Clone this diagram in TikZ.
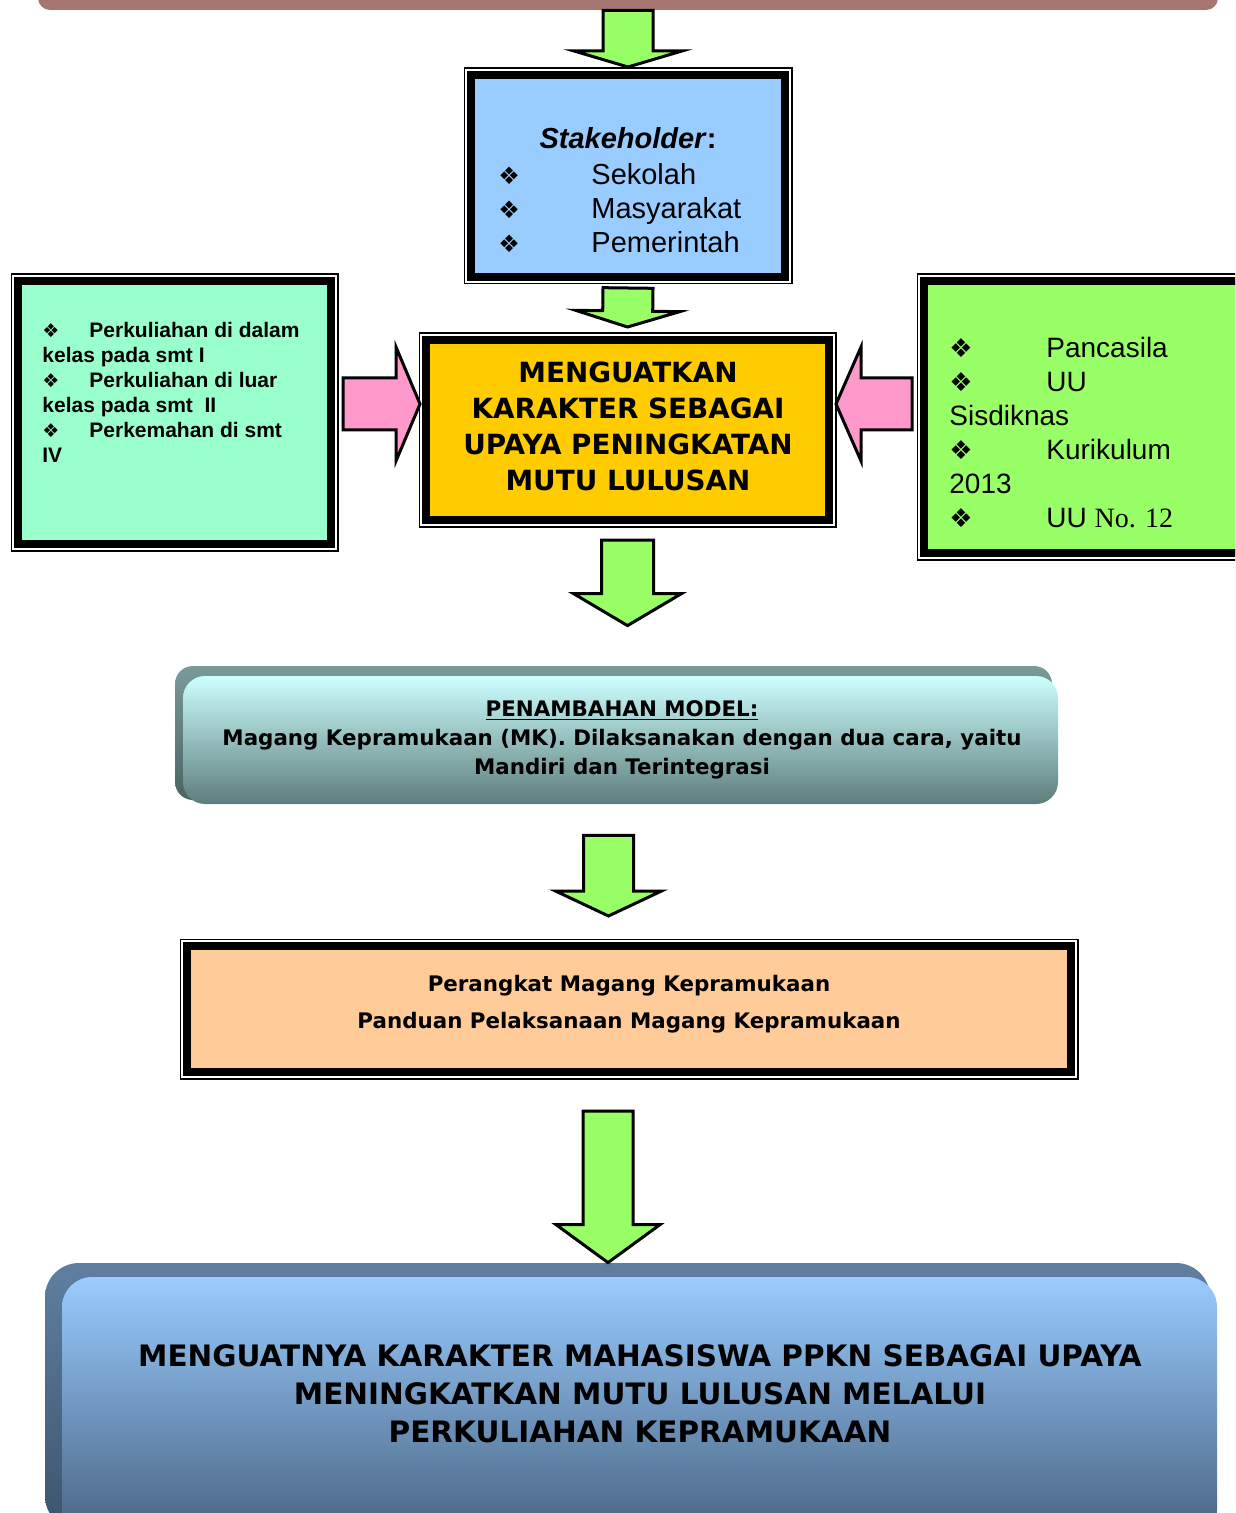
\documentclass[tikz,border=0pt]{standalone}
\usepackage{fontspec}
\usepackage{tikz}
\usetikzlibrary{calc}
\setmainfont{Liberation Sans}
\newfontfamily\tahoma{DejaVu Sans}
\newfontfamily\dingfont{DejaVu Sans}
\newfontfamily\timesfont{Liberation Serif}
\definecolor{stakeblue}{HTML}{99CCFF}
\definecolor{coreyellow}{HTML}{FFCC00}
\definecolor{mintgreen}{HTML}{99FFCC}
\definecolor{limegreen}{HTML}{99FF66}
\definecolor{pinkarrow}{HTML}{FF99CC}
\definecolor{peach}{HTML}{FFCC99}
\definecolor{topbrown}{HTML}{A87670}
\definecolor{modeltop}{HTML}{CCFFFF}
\definecolor{modelbot}{HTML}{5E7C7C}
\definecolor{modelback}{HTML}{7A9A9A}
\definecolor{goaltop}{HTML}{99CCFF}
\definecolor{goalbot}{HTML}{486280}
\definecolor{goalback}{HTML}{5F7FA2}
\newcommand{\bul}[2]{\makebox[#2][l]{\dingfont\fontsize{#1}{#1}\selectfont ❖}}
\newcommand{\fatarrow}[6]{
	\coordinate (hb) at ($(#2)!#5!(#1)$);
	\filldraw[fill=#6, draw=black, line width=1.5pt]
		($(#1)!#3!90:(#2)$) -- ($(hb)!#3!90:(#2)$) -- ($(hb)!#4!90:(#2)$) -- (#2)
		-- ($(hb)!#4!-90:(#2)$) -- ($(hb)!#3!-90:(#2)$) -- ($(#1)!#3!-90:(#2)$) -- cycle;
}
\tikzset{
	framed/.style={rectangle, draw=black, line width=4pt, inner sep=0pt,
		preaction={draw=black, line width=7.5pt},
		preaction={draw=white, line width=6pt}},
	slab/.style={rectangle, inner sep=0pt, draw=none},
	listtext/.style={anchor=north west, inner sep=0pt, align=left},
	boldtext/.style 2 args={align=center, inner sep=0pt, font={\tahoma\bfseries\fontsize{#1}{#2}\selectfont}},
}

\begin{document}
\begin{tikzpicture}[x=0.5pt,y=-0.5pt]
	\useasboundingbox (0,0) rectangle (1235,1513);
	\clip (0,0) rectangle (1235,1513);

	\node[slab, fill=topbrown, rounded corners=6pt, minimum width=590pt, minimum height=40pt] (prev) at (628,-30) {};
	\node[framed, fill=stakeblue, minimum width=157pt, minimum height=101pt] (stake) at (628,176) {};
	\node[framed, fill=coreyellow, minimum width=201.5pt, minimum height=90pt] (core) at (627.5,430) {};
	\node[framed, fill=mintgreen, minimum width=156.5pt, minimum height=131.5pt] (study) at (174.5,412.5) {};
	\node[framed, fill=limegreen, minimum width=158pt, minimum height=136pt] (basis) at (1082,417) {};
	\node[slab, top color=modelback, bottom color=modelbot!80!black, rounded corners=9pt, minimum width=438.5pt, minimum height=67pt] (modelback) at (613.5,733) {};
	\node[slab, top color=modeltop, bottom color=modelbot, rounded corners=11pt, minimum width=437.5pt, minimum height=64pt] (model) at (620.5,740) {};
	\node[framed, fill=peach, minimum width=442pt, minimum height=63pt] (device) at (629,1009) {};
	\node[slab, top color=goalback, bottom color=goalbot!85!black, rounded corners=17pt, minimum width=582.5pt, minimum height=133.5pt] (goalback) at (627.5,1396.5) {};
	\node[slab, top color=goaltop, bottom color=goalbot, rounded corners=15pt, minimum width=577.5pt, minimum height=131.5pt] (goal) at (639.5,1408.5) {};

	\node[font={\fontsize{14.5}{17}\selectfont}] (stakehead) at (628,138) {\textbf{\textit{Stakeholder}:}};
	\node[listtext, font={\fontsize{14.5}{17}\selectfont}] (stakelist) at (498,163)
		{\bul{12}{46.5pt}Sekolah\\\bul{12}{46.5pt}Masyarakat\\\bul{12}{46.5pt}Pemerintah};
	\node[listtext, font={\fontsize{10.5}{12.5}\selectfont\bfseries}] (studylist) at (42,322)
		{\bul{9.5}{23.5pt}Perkuliahan di dalam\\kelas pada smt I\\\bul{9.5}{23.5pt}Perkuliahan di luar\\kelas pada smt~~II\\\bul{9.5}{23.5pt}Perkemahan di smt\\IV};
	\node[listtext, font={\fontsize{14}{17}\selectfont}] (basislist) at (949,337)
		{\bul{13}{48.5pt}Pancasila\\\bul{13}{48.5pt}UU\\Sisdiknas\\\bul{13}{48.5pt}Kurikulum\\2013\\\bul{13}{48.5pt}UU {\timesfont No. 12}};
	\node[boldtext={13.9}{18}] (coretext) at (628,426)
		{MENGUATKAN\\KARAKTER SEBAGAI\\UPAYA PENINGKATAN\\MUTU LULUSAN};
	\node[boldtext={10.7}{14.5}] (modeltext) at (622,740)
		{\underline{PENAMBAHAN MODEL:}\\Magang Kepramukaan (MK). Dilaksanakan dengan dua cara, yaitu\\Mandiri dan Terintegrasi};
	\node[boldtext={10.7}{18.5}] (devicetext) at (629,1004)
		{Perangkat Magang Kepramukaan\\Panduan Pelaksanaan Magang Kepramukaan};
	\node[boldtext={14.75}{19}] (goaltext) at (640,1394)
		{MENGUATNYA KARAKTER MAHASISWA PPKN SEBAGAI UPAYA\\MENINGKATKAN MUTU LULUSAN MELALUI\\PERKULIAHAN KEPRAMUKAAN};

	\coordinate (a1s) at (prev.south);
	\coordinate (a1t) at ($(stake.north)+(0,-4)$);
	\coordinate (a2s) at ($(stake.south)+(0,7)$);
	\coordinate (a2t) at ($(core.north)+(0,-9)$);
	\coordinate (a3s) at ($(core.south)+(0,16)$);
	\coordinate (a3t) at ($(core.south |- model.north)+(0,-50)$);
	\coordinate (a4s) at ($(model.south)+(-12,31)$);
	\coordinate (a4t) at ($(model.south |- device.north)+(-12,-26)$);
	\coordinate (a5s) at ($(device.south)+(-21,35)$);
	\coordinate (a5t) at ($(device.south |- goalback.north)+(-21,0)$);
	\coordinate (plt) at ($(core.west)+(-2,-26)$);
	\coordinate (pls) at ($(study.east |- plt)+(8,0)$);
	\coordinate (prt) at ($(core.east)+(3,-26)$);
	\coordinate (prs) at ($(basis.west |- prt)+(-8,0)$);

	\fatarrow{a1s}{a1t}{12.5pt}{27pt}{8pt}{limegreen}
	\fatarrow{a2s}{a2t}{12.5pt}{26pt}{8pt}{limegreen}
	\fatarrow{a3s}{a3t}{13pt}{27pt}{16pt}{limegreen}
	\fatarrow{a4s}{a4t}{12.5pt}{26.5pt}{12.5pt}{limegreen}
	\fatarrow{a5s}{a5t}{12.5pt}{26pt}{19pt}{limegreen}
	\fatarrow{pls}{plt}{13pt}{28.5pt}{12pt}{pinkarrow}
	\fatarrow{prs}{prt}{13pt}{28.5pt}{12.5pt}{pinkarrow}
\end{tikzpicture}
\end{document}
